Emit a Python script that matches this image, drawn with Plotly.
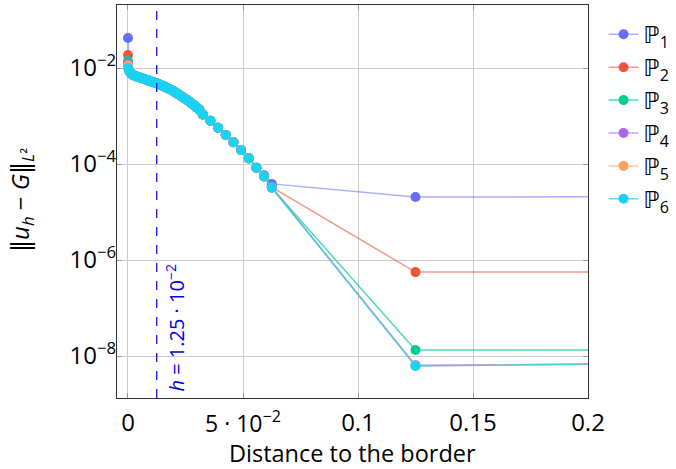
import plotly.graph_objects as go

# Shared dense part of the curves (distance to border, error)
dense_x = [0.0005, 0.001, 0.0015, 0.002, 0.003, 0.004, 0.005, 0.006, 0.007, 0.008,
           0.009, 0.010, 0.011, 0.012, 0.013, 0.014, 0.015, 0.016, 0.017, 0.018,
           0.019, 0.020, 0.021, 0.022, 0.023, 0.024, 0.025, 0.026, 0.027, 0.028,
           0.029, 0.030, 0.031, 0.0325, 0.03583, 0.03917, 0.0425, 0.04583, 0.04917,
           0.0525, 0.05583]
dense_err = [8.87e-3, 8.06e-3, 7.5e-3, 7.15e-3, 6.81e-3, 6.56e-3, 6.34e-3, 6.13e-3, 5.9e-3, 5.68e-3,
             5.46e-3, 5.26e-3, 5.06e-3, 4.87e-3, 4.69e-3, 4.47e-3, 4.26e-3, 4.06e-3, 3.85e-3, 3.65e-3,
             3.45e-3, 3.23e-3, 3.02e-3, 2.81e-3, 2.61e-3, 2.43e-3, 2.26e-3, 2.10e-3, 1.94e-3, 1.78e-3,
             1.63e-3, 1.49e-3, 1.35e-3, 1.08e-3, 7.98e-4, 5.70e-4, 4.02e-4, 2.83e-4, 1.96e-4,
             1.31e-4, 8.38e-5]

tail_x = [0.05917, 0.0625, 0.125, 0.25]

names = ["ℙ<sub>1</sub>", "ℙ<sub>2</sub>", "ℙ<sub>3</sub>", "ℙ<sub>4</sub>", "ℙ<sub>5</sub>", "ℙ<sub>6</sub>"]
err_at_zero = [4.2e-2, 1.87e-2, 1.4e-2, 1.24e-2, 1.15e-2, 1.0e-2]
tail_P1 = [5.8e-5, 3.85e-5, 2.05e-5, 2.08e-5]
tail_P2 = [5.5e-5, 3.3e-5, 5.6e-7, 5.6e-7]
tail_P3 = [5.5e-5, 3.2e-5, 1.33e-8, 1.33e-8]
tail_P4 = [5.6e-5, 3.3e-5, 6.4e-9, 7.0e-9]
tail_P5 = [5.5e-5, 3.2e-5, 6.3e-9, 7.1e-9]
tail_P6 = [5.49e-5, 3.2e-5, 6.2e-9, 7.2e-9]
tails = [tail_P1, tail_P2, tail_P3, tail_P4, tail_P5, tail_P6]

colors = ["#636efa", "#EF553B", "#00cc96", "#ab63fa", "#FFA15A", "#19d3f3"]
line_colors = ["rgba(99,110,250,0.55)", "rgba(239,85,59,0.6)", "rgba(0,204,150,0.7)",
               "rgba(171,99,250,0.6)", "rgba(255,161,90,0.6)", "rgba(25,211,243,0.75)"]

h_value = 0.0125

font_family = "Open Sans, DejaVu Sans, sans-serif"

fig = go.Figure()
for i in range(6):
    xs = [0.0] + dense_x + tail_x
    ys = [err_at_zero[i]] + dense_err + tails[i]
    fig.add_trace(go.Scatter(
        x=xs, y=ys, mode="lines+markers", name=names[i],
        line=dict(color=line_colors[i], width=1.5),
        marker=dict(color=colors[i], size=10, line=dict(width=0)),
    ))

fig.add_shape(type="line", xref="x", yref="paper", x0=h_value, x1=h_value, y0=0, y1=1,
              line=dict(color="#0000ee", width=1.2, dash="dash"))
fig.add_annotation(x=h_value, xref="x", xshift=19, y=0.012, yref="paper",
                   xanchor="center", yanchor="bottom",
                   text="<i>h</i> = 1.25 · 10<sup>−2</sup>", textangle=-90, showarrow=False,
                   font=dict(color="#0000ee", size=20, family=font_family))

# y-axis title
fig.add_annotation(x=0, xref="paper", xshift=-96, y=0.504, yref="paper",
                   xanchor="center", yanchor="middle",
                   text="‖<i>u</i><sub><i>h</i></sub> − <i>G</i>‖<sub><i>L</i>²</sub>",
                   textangle=-90, showarrow=False, font=dict(size=24, family=font_family))

# x-axis title
fig.add_annotation(x=0.5, xref="paper", y=0, yref="paper", yshift=-55,
                   xanchor="center", yanchor="middle", borderpad=0,
                   text="Distance to the border", showarrow=False,
                   font=dict(size=23.5, family=font_family))

tv = [1e-2, 1e-4, 1e-6, 1e-8]
tt = ["10<sup>−2</sup>", "10<sup>−4</sup>", "10<sup>−6</sup>", "10<sup>−8</sup>"]
xv = [0, 0.05, 0.1, 0.15, 0.2]
xt = ["0", "", "0.1", "0.15", "0.2"]

# the 5·10^-2 tick label sits slightly lower, as in the reference
fig.add_annotation(x=0.05, xref="x", y=0, yref="paper", xanchor="center", yanchor="top", yshift=-6,
                   text="5 · 10<sup>−2</sup>", showarrow=False, borderpad=0,
                   font=dict(size=23, family=font_family))

fig.update_layout(
    width=676, height=469,
    margin=dict(l=117, r=88, t=5, b=71, autoexpand=False),
    plot_bgcolor="white", paper_bgcolor="white",
    font=dict(family=font_family, size=24, color="black"),
    showlegend=True,
    legend=dict(x=1.033, y=0.98, xanchor="left", yanchor="top",
                font=dict(size=23), bgcolor="rgba(0,0,0,0)", tracegroupgap=0),
    xaxis=dict(range=[-0.00478, 0.2], tickvals=xv, ticktext=xt, automargin=False,
               showgrid=True, gridcolor="#cccccc", gridwidth=1, zeroline=False,
               showline=True, linecolor="#333333", linewidth=1.2, mirror="ticks",
               ticks="inside", ticklen=5, tickcolor="#999999", ticklabelstandoff=3),
    yaxis=dict(type="log", range=[-8.875, -0.6875], tickvals=tv, ticktext=tt, automargin=False,
               showgrid=True, gridcolor="#cccccc", gridwidth=1, zeroline=False,
               showline=True, linecolor="#333333", linewidth=1.2, mirror="ticks",
               ticks="inside", ticklen=5, tickcolor="#999999", ticklabelstandoff=-5),
)

fig.write_html("out.html")
